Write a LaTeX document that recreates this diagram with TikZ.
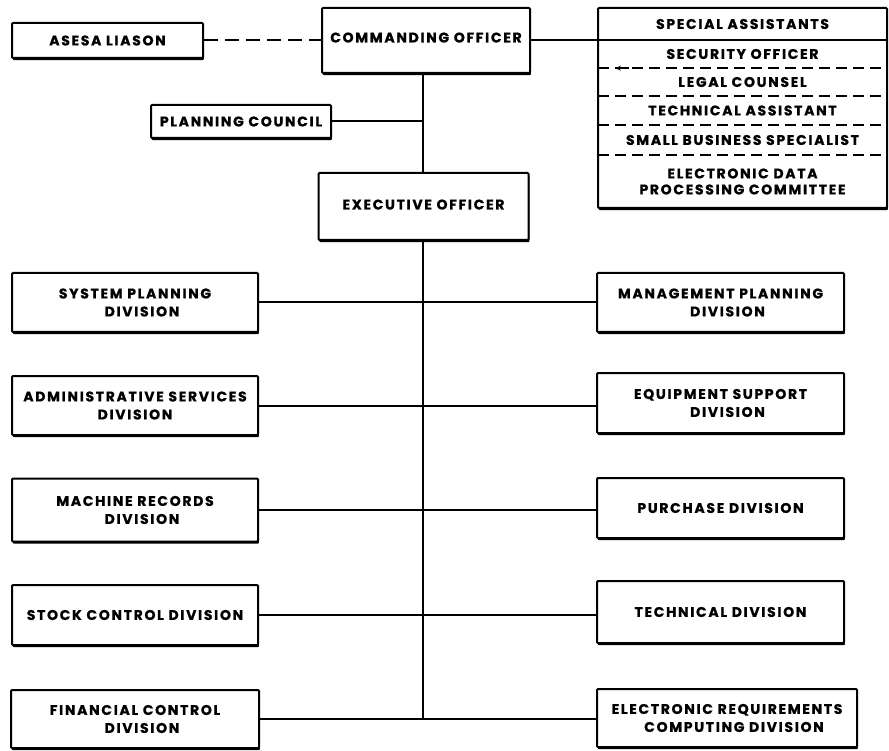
\documentclass[tikz,border=0pt]{standalone}
\usepackage{fontspec}
\newfontfamily\labfont[LetterSpace=12, BoldFeatures={FakeBold=0.8}]{Poppins}
\usetikzlibrary{shadows,arrows.meta,calc}
\begin{document}
\begin{tikzpicture}[x=1pt,y=-1pt,
  lab/.style={font=\labfont\bfseries\fontsize{14}{18}\selectfont, align=center},
  box/.style={lab, draw, line width=2pt, fill=white, rounded corners=1pt, inner sep=0pt,
    drop shadow={shadow xshift=0.8pt, shadow yshift=-2.2pt, fill=black, opacity=1}},
  link/.style={line width=2pt},
  dlink/.style={line width=2pt, dash pattern=on 14pt off 7pt},
  sep/.style={line width=1.8pt, dash pattern=on 11pt off 6pt}]
\fill[white] (0,0) rectangle (889,751);
\useasboundingbox (0,0) rectangle (889,751);

% top level
\node[box, minimum width=191pt, minimum height=35pt] (asesa) at (107.5,40.5) {ASESA LIASON};
\node[box, minimum width=208pt, minimum height=65pt, text depth=6pt] (co) at (426,40.5) {COMMANDING OFFICER};
\node[box, minimum width=180pt, minimum height=33pt] (pc) at (241,121.5) {PLANNING COUNCIL};
\node[box, minimum width=210pt, minimum height=67pt, text depth=4pt] (eo) at (423.5,206.5) {EXECUTIVE OFFICER};

% special assistants block
\node[box, minimum width=289pt, minimum height=200pt] (sa) at (742.5,108) {};
\node[lab, minimum width=289pt, minimum height=32pt] (r1) at (742.5,24) {SPECIAL ASSISTANTS};
\node[lab, minimum width=289pt, minimum height=28pt] (r2) at (742.5,54) {SECURITY OFFICER};
\node[lab, minimum width=289pt, minimum height=28pt] (r3) at (742.5,82) {LEGAL COUNSEL};
\node[lab, minimum width=289pt, minimum height=29pt] (r4) at (742.5,110.5) {TECHNICAL ASSISTANT};
\node[lab, minimum width=289pt, minimum height=30pt] (r5) at (742.5,140) {SMALL BUSINESS SPECIALIST};
\node[lab, minimum width=289pt, minimum height=53pt, font=\labfont\bfseries\fontsize{14}{16}\selectfont] (r6) at (742.5,181.5) {ELECTRONIC DATA\\PROCESSING COMMITTEE};
\draw[line width=1.8pt] (r1.south west) -- (r1.south east);
\draw[sep] (r2.south west) -- (r2.south east);
\draw[sep] (r3.south west) -- (r3.south east);
\draw[sep] (r4.south west) -- (r4.south east);
\draw[sep] (r5.south west) -- (r5.south east);
\coordinate (arrs) at ($(r2.south west)+(31,0)$);
\coordinate (arre) at ($(r2.south west)+(18,0)$);
\draw[line width=1.6pt, -{Stealth[length=5pt,width=5pt]}] (arrs) -- (arre);

% divisions
\node[box, minimum width=246pt, minimum height=59pt] (sp) at (135,302.5) {SYSTEM PLANNING\\\quad DIVISION};
\node[box, minimum width=246pt, minimum height=59pt] (as) at (135,405.5) {ADMINISTRATIVE SERVICES\\DIVISION};
\node[box, minimum width=246pt, minimum height=63pt] (mr) at (135,510) {MACHINE RECORDS\\\quad DIVISION};
\node[box, minimum width=246pt, minimum height=60pt] (sc) at (135,615) {STOCK CONTROL DIVISION};
\node[box, minimum width=248pt, minimum height=58pt] (fc) at (135,719) {FINANCIAL CONTROL\\\quad DIVISION};

\node[box, minimum width=247pt, minimum height=59pt] (mp) at (720.5,302.5) {MANAGEMENT PLANNING\\\quad DIVISION};
\node[box, minimum width=247pt, minimum height=60pt] (es) at (720.5,403) {EQUIPMENT SUPPORT\\\quad DIVISION};
\node[box, minimum width=247pt, minimum height=60pt] (pu) at (720.5,508) {PURCHASE DIVISION};
\node[box, minimum width=247pt, minimum height=62pt] (te) at (720.5,612) {TECHNICAL DIVISION};
\node[box, minimum width=260pt, minimum height=58pt] (er) at (727,718) {ELECTRONIC REQUIREMENTS\\\quad COMPUTING DIVISION};

% connectors
\coordinate (trunk) at (423,0);
\draw[dlink] (asesa.east) -- (co.west |- asesa.east);
\draw[link] (co.east |- r1.south) -- (sa.west |- r1.south);
\draw[link] (co.south -| trunk) -- (eo.north -| trunk);
\draw[link] (pc.east) -- (pc.east -| trunk);
\draw[link] (eo.south -| trunk) -- (fc.east -| trunk);
\draw[link] (sp.east) -- (sp.east -| mp.west);
\draw[link] (as.east) -- (as.east -| es.west);
\draw[link] (mr.east) -- (mr.east -| pu.west);
\draw[link] (sc.east) -- (sc.east -| te.west);
\draw[link] (fc.east) -- (fc.east -| er.west);
\end{tikzpicture}
\end{document}
